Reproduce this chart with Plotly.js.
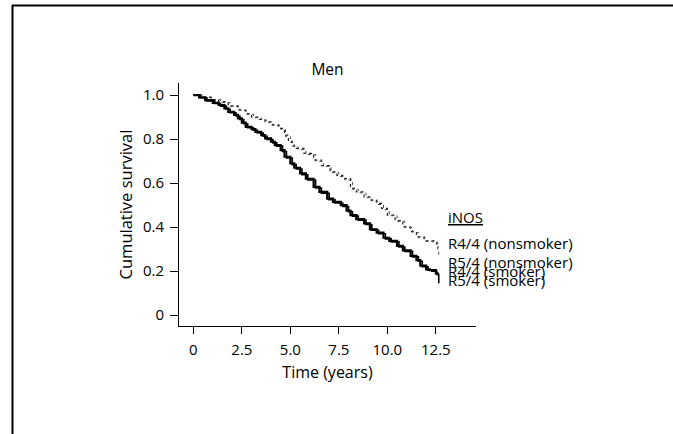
<!DOCTYPE html>
<html>
<head>
<meta charset="utf-8">
<script src="https://cdn.plot.ly/plotly-3.0.1.min.js"></script>
<style>html,body{margin:0;padding:0;background:#fff;overflow:hidden;}#chart{width:673px;height:434px;}</style>
</head>
<body>
<div id="chart"></div>
<script>
// Time (years) and cumulative survival
var nonsmokerR44Time = [0,0.5,1.0,1.3,1.8,2.3,2.7,3.0,3.4,3.7,4.0,4.4,4.7,4.9,5.1,5.3,5.7,6.2,6.6,7.05,7.4,7.7,8.1,8.4,8.8,9.1,9.45,9.7,10.0,10.4,10.8,11.2,11.5,11.9,12.2,12.4,12.55,12.65];
var nonsmokerR44Surv = [1.0,0.99,0.978,0.97,0.951,0.932,0.915,0.9,0.89,0.879,0.865,0.849,0.818,0.79,0.768,0.758,0.735,0.705,0.68,0.651,0.635,0.621,0.576,0.56,0.538,0.523,0.508,0.485,0.455,0.43,0.401,0.38,0.356,0.338,0.338,0.335,0.31,0.31];
var nonsmokerR54Time = [0,0.4,0.9,1.4,1.9,2.4,2.8,3.1,3.5,3.8,4.1,4.5,4.75,5.0,5.2,5.4,5.8,6.3,6.7,7.1,7.5,7.8,8.2,8.5,8.9,9.2,9.5,9.8,10.1,10.5,10.9,11.3,11.6,11.95,12.3,12.5,12.6,12.65];
var nonsmokerR54Surv = [1.0,0.992,0.98,0.966,0.948,0.93,0.912,0.897,0.886,0.876,0.862,0.845,0.812,0.785,0.764,0.752,0.73,0.7,0.676,0.648,0.63,0.615,0.572,0.556,0.534,0.518,0.503,0.48,0.452,0.427,0.398,0.376,0.352,0.336,0.334,0.33,0.3,0.27];
var smokerR44Time = [0,0.3,0.6,1.0,1.3,1.6,1.8,2.1,2.3,2.5,2.7,3.0,3.2,3.5,3.7,4.0,4.2,4.5,4.7,5.0,5.2,5.5,5.8,6.2,6.5,6.9,7.2,7.6,7.9,8.1,8.4,8.8,9.1,9.45,9.8,10.1,10.5,10.8,11.2,11.5,11.7,12.0,12.2,12.5,12.65];
var smokerR44Surv = [1.0,0.99,0.977,0.965,0.955,0.94,0.924,0.91,0.894,0.875,0.856,0.845,0.833,0.818,0.803,0.788,0.773,0.75,0.72,0.69,0.67,0.644,0.62,0.583,0.56,0.53,0.515,0.5,0.475,0.455,0.437,0.417,0.39,0.375,0.352,0.338,0.315,0.295,0.27,0.25,0.225,0.208,0.205,0.19,0.19];
var smokerR54Time = [0,0.35,0.7,1.1,1.4,1.7,1.9,2.2,2.4,2.6,2.8,3.1,3.3,3.6,3.8,4.1,4.3,4.6,4.8,5.1,5.3,5.6,5.9,6.3,6.6,7.0,7.3,7.7,8.0,8.2,8.5,8.9,9.2,9.55,9.9,10.2,10.6,10.9,11.3,11.6,11.8,12.1,12.3,12.55,12.65];
var smokerR54Surv = [1.0,0.988,0.974,0.962,0.95,0.936,0.92,0.905,0.889,0.87,0.852,0.84,0.828,0.813,0.798,0.783,0.768,0.744,0.714,0.684,0.664,0.638,0.614,0.578,0.554,0.525,0.51,0.494,0.47,0.45,0.432,0.412,0.386,0.37,0.347,0.333,0.31,0.29,0.265,0.245,0.22,0.204,0.2,0.185,0.145];

var seriesNames = ['R4/4 (nonsmoker)','R5/4 (nonsmoker)','R4/4 (smoker)','R5/4 (smoker)'];
var labelY = [0.330,0.242,0.201,0.159];
var legendTitle = 'iNOS';
var legendTitleY = 0.447;

var xTickVals = [0,2.5,5,7.5,10,12.5];
var xTickText = ['0','2.5','5.0','7.5','10.0','12.5'];
var yTickVals = [0,0.2,0.4,0.6,0.8,1.0];
var yTickText = ['0','0.2','0.4','0.6','0.8','1.0'];

var FONT = '"Open Sans", "DejaVu Sans", sans-serif';

var traces = [
  {x: nonsmokerR44Time, y: nonsmokerR44Surv, name: seriesNames[0], mode:'lines', line:{shape:'hv', color:'#222', width:1.2, dash:'dot'}},
  {x: nonsmokerR54Time, y: nonsmokerR54Surv, name: seriesNames[1], mode:'lines', line:{shape:'hv', color:'#444', width:1, dash:'dot'}},
  {x: smokerR44Time, y: smokerR44Surv, name: seriesNames[2], mode:'lines', line:{shape:'hv', color:'#000', width:2.2}},
  {x: smokerR54Time, y: smokerR54Surv, name: seriesNames[3], mode:'lines', line:{shape:'hv', color:'#000', width:1.6}}
];

var annotations = [{
  xref:'paper', yref:'y', x:0.9, y:legendTitleY, xanchor:'left', yanchor:'middle',
  text:'<u>'+legendTitle+'</u>', showarrow:false, font:{family:FONT, size:15, color:'#000'}
}];
for (var i=0;i<seriesNames.length;i++){
  annotations.push({xref:'paper', yref:'y', x:0.9, y:labelY[i], xanchor:'left', yanchor:'middle',
    text:seriesNames[i], showarrow:false, font:{family:FONT, size:15, color:'#000'}});
}

var layout = {
  width:673, height:434,
  margin:{l:179, r:197, t:83, b:108},
  paper_bgcolor:'#fff', plot_bgcolor:'#fff',
  showlegend:false,
  font:{family:FONT, size:15, color:'#000'},
  title:{text:'Men', x:0.5, xref:'paper', xanchor:'center', y:1-70/434, yanchor:'middle', font:{family:FONT, size:15.5, color:'#000'}},
  xaxis:{range:[-0.74,14.57], tickvals:xTickVals, ticktext:xTickText, ticks:'outside', ticklen:7, tickwidth:1, tickcolor:'#000',
    showline:true, linecolor:'#000', linewidth:1, showgrid:false, zeroline:false, ticklabelstandoff:3,
    tickfont:{family:FONT, size:15, color:'#000'},
    title:{text:'Time (years)', standoff:8, font:{family:FONT, size:16, color:'#000'}}},
  yaxis:{range:[-0.049,1.055], tickvals:yTickVals, ticktext:yTickText, ticks:'outside', ticklen:8, tickwidth:1, tickcolor:'#000',
    showline:true, linecolor:'#000', linewidth:1, showgrid:false, zeroline:false, ticklabelstandoff:3,
    tickfont:{family:FONT, size:15, color:'#000'},
    title:{text:'Cumulative survival', standoff:6, font:{family:FONT, size:16.5, color:'#000'}}},
  annotations: annotations,
  shapes:[
    {type:'line', xref:'paper', yref:'paper', x0:(12-179)/297, x1:(690-179)/297, y0:(326-5.5)/243, y1:(326-5.5)/243, line:{color:'#000', width:2}},
    {type:'line', xref:'paper', yref:'paper', x0:(12.5-179)/297, x1:(12.5-179)/297, y0:(326-5)/243, y1:(326-450)/243, line:{color:'#000', width:2}}
  ]
};

Plotly.newPlot('chart', traces, layout, {displayModeBar:false, staticPlot:true});
</script>
</body>
</html>
